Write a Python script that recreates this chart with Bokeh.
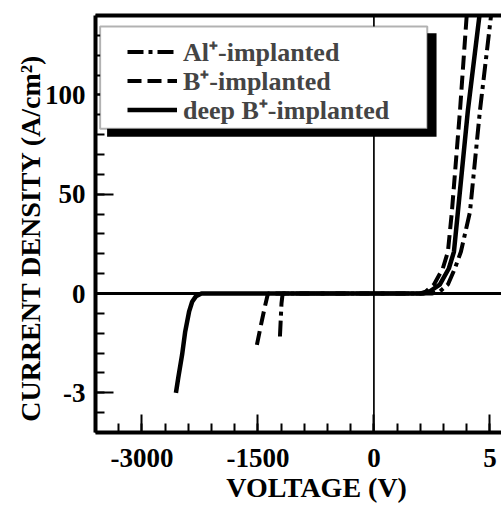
import math
from bokeh.plotting import figure
from bokeh.models import (FixedTicker, LinearAxis, Span, BoxAnnotation, Legend,
                          LegendItem, Range1d)
from bokeh.embed import file_html
from bokeh.resources import INLINE

# ---------------- data (voltage in V, current density in A/cm^2) ----------------
al_v = [-1215, -1205, -1195, -1180, 0, 2.5, 2.84, 3.19, 3.49, 3.75, 4.14, 4.57, 5.05]
al_j = [-1.3, -0.8, -0.3, 0, 0, 0, 1.0, 4.5, 12.6, 21, 41, 92, 140]

b_v = [-1513, -1460, -1410, -1370, 0, 2.0, 2.24, 2.59, 2.97, 3.19, 3.36, 3.71, 4.0]
b_j = [-1.55, -0.95, -0.4, 0, 0, 0, 1.0, 4.5, 12.6, 21, 41, 92, 140]

deep_v = [-2560, -2530, -2480, -2440, -2390, -2350, -2300, -2230, 0,
          2.1, 2.4, 2.84, 3.23, 3.45, 3.62, 4.05, 4.55]
deep_j = [-3.0, -2.55, -1.85, -1.15, -0.55, -0.25, -0.08, 0, 0,
          0, 1.0, 4.5, 12.6, 21, 41, 92, 140]

series_names = ["Al\u207a-implanted", "B\u207a-implanted", "deep B\u207a-implanted"]

x_tick_values = [-3000, -1500, 0, 5]
x_tick_labels = ["-3000", "-1500", "0", "5"]
y_tick_values = [-3, 0, 50, 100]
y_tick_labels = ["-3", "0", "50", "100"]

x_title = "VOLTAGE (V)"
y_title = "CURRENT DENSITY (A/cm\u00b2)"

# broken axes: different scale in each quadrant
NEG_V_STEP = 300.0   # V per minor tick (reverse side)
POS_V_STEP = 1.0     # V per minor tick (forward side)
POS_J_STEP = 10.0    # A/cm2 per minor tick (forward)
NEG_J_STEP = 0.6     # A/cm2 per minor tick (reverse)

V_MIN, V_MAX = -3600, 5.5
J_MIN, J_MAX = -4.2, 140


def tx(v):
    return round(v / NEG_V_STEP if v < 0 else v / POS_V_STEP, 9)


def ty(j):
    return round(j / NEG_J_STEP if j < 0 else j / POS_J_STEP, 9)


FONT = "Liberation Serif"

p = figure(width=501, height=505,
           x_range=Range1d(tx(V_MIN), tx(V_MAX)),
           y_range=Range1d(ty(J_MIN), ty(J_MAX)),
           output_backend="svg", toolbar_location=None,
           min_border_left=95, min_border_right=0,
           min_border_top=15, min_border_bottom=73)
p.outline_line_color = None
p.grid.visible = False
p.background_fill_color = "white"
p.border_fill_color = "white"

x_minor = [tx(v) for v in range(-3600, 0, 300)] + [tx(v) for v in range(0, 6)]
y_minor = [ty(-NEG_J_STEP * k) for k in range(1, 8)] + [ty(POS_J_STEP * k) for k in range(0, 15)]


def style_axis(ax):
    ax.axis_line_width = 4
    ax.axis_line_color = "black"
    ax.major_tick_in = 18
    ax.major_tick_out = 0
    ax.minor_tick_in = 9
    ax.minor_tick_out = 0
    ax.major_tick_line_width = 2
    ax.minor_tick_line_width = 2
    ax.major_tick_line_color = "black"
    ax.minor_tick_line_color = "black"
    ax.major_label_text_font = FONT
    ax.major_label_text_font_style = "bold"
    ax.major_label_text_font_size = "27px"
    ax.major_label_text_color = "black"


xa = p.xaxis[0]
xa.ticker = FixedTicker(ticks=[tx(v) for v in x_tick_values], minor_ticks=x_minor)
xa.major_label_overrides = {tx(v): lab for v, lab in zip(x_tick_values, x_tick_labels)}
style_axis(xa)
xa.major_label_standoff = 16

ya = p.yaxis[0]
ya.ticker = FixedTicker(ticks=[ty(j) for j in y_tick_values], minor_ticks=y_minor)
ya.major_label_overrides = {ty(j): lab for j, lab in zip(y_tick_values, y_tick_labels)}
style_axis(ya)
ya.major_label_standoff = 10

# axis titles, placed as single labels on outer, line-less axes
X_TITLE_POS = -2.47   # horizontal centre of the x title (plot units)
Y_TITLE_POS = 2.8     # vertical centre of the y title (plot units)
xt = LinearAxis(ticker=FixedTicker(ticks=[X_TITLE_POS]),
                major_label_overrides={X_TITLE_POS: x_title},
                axis_line_color=None, major_tick_line_color=None,
                minor_tick_line_color=None, major_label_standoff=-4,
                major_label_text_font=FONT, major_label_text_font_style="bold",
                major_label_text_font_size="28px", major_label_text_color="black")
p.add_layout(xt, "below")
yt = LinearAxis(ticker=FixedTicker(ticks=[Y_TITLE_POS]),
                major_label_overrides={Y_TITLE_POS: y_title},
                major_label_orientation="vertical",
                axis_line_color=None, major_tick_line_color=None,
                minor_tick_line_color=None, major_label_standoff=-11,
                major_label_text_font=FONT, major_label_text_font_style="bold",
                major_label_text_font_size="28px", major_label_text_color="black")
p.add_layout(yt, "left")

top = LinearAxis(ticker=FixedTicker(ticks=[]), axis_line_width=4,
                 major_tick_line_color=None, minor_tick_line_color=None,
                 major_label_text_font_size="0px", major_label_standoff=0)
p.add_layout(top, "above")

# zero lines
p.add_layout(Span(location=0, dimension="height", line_color="black", line_width=1.7))
p.add_layout(Span(location=0, dimension="width", line_color="black", line_width=3))

r_al = p.line([tx(v) for v in al_v], [ty(j) for j in al_j], line_color="black",
              line_width=4, line_dash="16 5 4 5")
r_b = p.line([tx(v) for v in b_v], [ty(j) for j in b_j], line_color="black",
             line_width=4, line_dash="14 6")
r_deep = p.line([tx(v) for v in deep_v], [ty(j) for j in deep_j], line_color="black",
                line_width=4.5)

# legend frame with drop shadow
p.add_layout(BoxAnnotation(left=-11.5, right=2.7, top=13.1, bottom=7.9,
                           fill_color="black", fill_alpha=1, line_color=None))
p.add_layout(BoxAnnotation(left=-11.8, right=2.3, top=13.45, bottom=8.3,
                           fill_color="white", fill_alpha=1,
                           line_color="black", line_width=2))

for name, rend, vy in zip(series_names, [r_al, r_b, r_deep], [363, 334, 305]):
    lg = Legend(items=[LegendItem(label=name, renderers=[rend])],
                location=(32, vy), padding=0, margin=0, spacing=0,
                border_line_color=None, background_fill_alpha=0,
                glyph_width=50, glyph_height=27, label_height=27, label_standoff=6,
                label_text_font=FONT, label_text_font_style="bold",
                label_text_font_size="26px")
    p.add_layout(lg)

open("out.html", "w").write(file_html(p, INLINE))
